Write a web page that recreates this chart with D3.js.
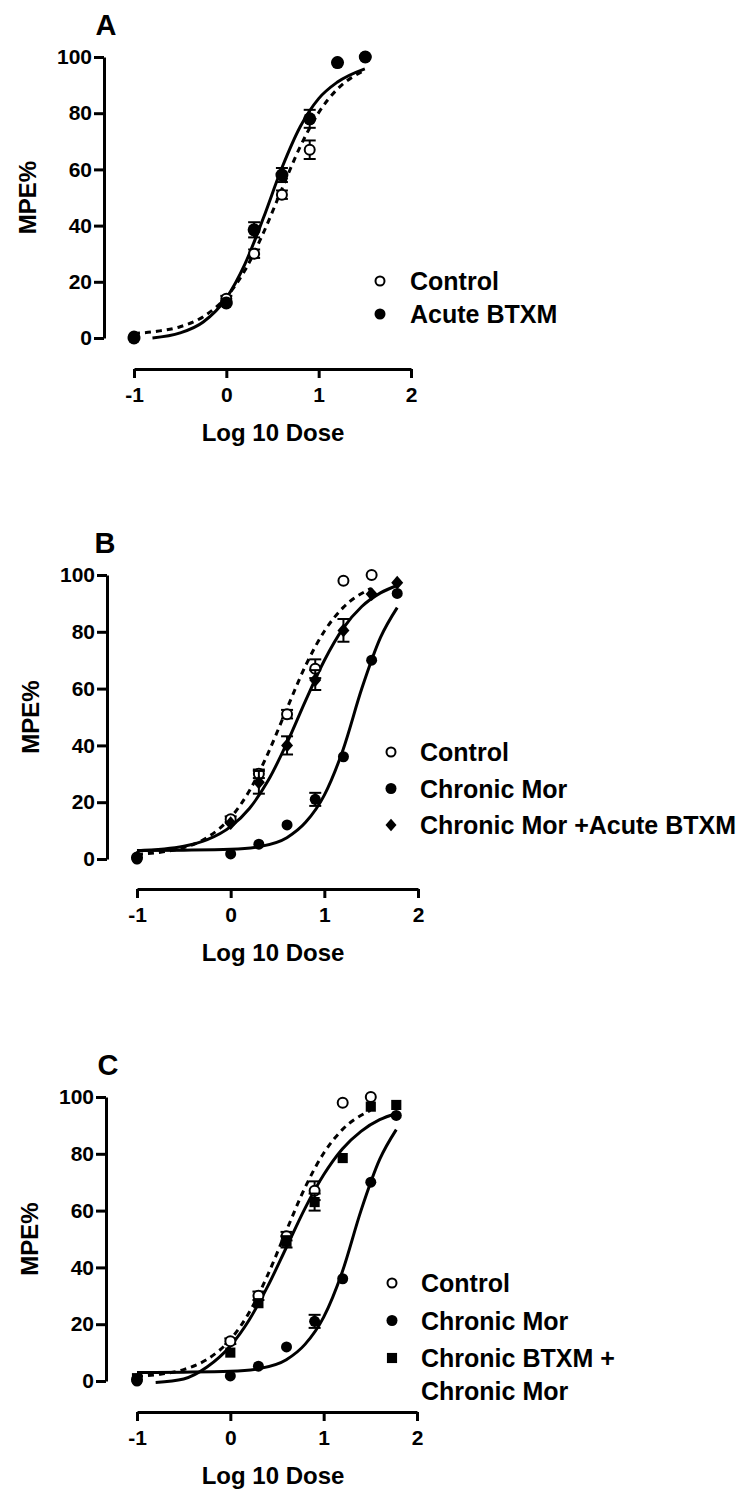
<!DOCTYPE html>
<html lang="en">
<head>
    <meta charset="UTF-8">
    <title>MPE% dose-response</title>
    <script src="https://cdn.jsdelivr.net/npm/d3@7"></script>
    <style>
        body { margin: 0; background: #fff; }
        text { font-family: "Liberation Sans", Arial, sans-serif; font-weight: bold; fill: #000; }
    </style>
</head>
<body>
<div id="chart"></div>
<script>
    // log10 doses shared by all three panels
    var logDose = [-1, 0, 0.301, 0.602, 0.903, 1.204, 1.505, 1.778];
    var xTicks = [-1, 0, 1, 2];
    var yTicks = [0, 20, 40, 60, 80, 100];

    // mean MPE% and SEM per group
    var controlMPE = [0.5, 14, 30, 51, 67, 98, 100];
    var controlSEM = [0, 1, 1.5, 1.5, 3.3, 0, 0];
    var acuteBtxmMPE = [0, 12.5, 38.5, 58, 78, 98, 100];
    var acuteBtxmSEM = [0, 0, 2.7, 2.5, 3.2, 0, 0];
    var chronicMorMPE = [0, 1.8, 5.2, 12, 21, 36, 70, 93.5];
    var chronicMorSEM = [0, 0, 0, 0, 2.3, 0, 0, 0];
    var morAcuteBtxmMPE = [0.5, 12.6, 27, 40, 63, 80.5, 93.3, 97.3];
    var morAcuteBtxmSEM = [0, 0, 4, 3.2, 3.5, 4, 0, 0];
    var btxmMorMPE = [1, 10, 27.4, 49, 63, 78.5, 96.6, 97.2];
    var btxmMorSEM = [0, 0, 0, 2, 3, 0, 0, 0];

    // fitted curves, sampled off the figure
    var fitControlX = [-1, -0.75, -0.5, -0.25, 0, 0.2, 0.4, 0.6, 0.8, 1.0, 1.2, 1.5];
    var fitControlY = [1.6, 2.4, 4.0, 7.6, 14.6, 24.0, 37.3, 52.9, 68.1, 80.2, 88.5, 95.3];
    var fitAcuteX = [-0.8, -0.5, -0.25, 0, 0.2, 0.4, 0.6, 0.8, 1.0, 1.2, 1.5];
    var fitAcuteY = [0, 1.8, 5.7, 14.2, 26.2, 42.6, 60.4, 75.2, 85.2, 91.0, 95.8];
    var fitMorX = [-1, -0.5, 0, 0.3, 0.6, 0.8, 1.0, 1.2, 1.4, 1.6, 1.778];
    var fitMorY = [3.0, 3.1, 3.4, 4.3, 7.5, 12.9, 22.5, 38.5, 60, 78, 88.5];
    var fitMorAcuteX = [-1, -0.5, -0.25, 0, 0.2, 0.4, 0.6, 0.8, 1.0, 1.2, 1.4, 1.6, 1.778];
    var fitMorAcuteY = [2.9, 4.5, 6.8, 11.4, 17.8, 27.6, 40.8, 55.8, 69.9, 81.2, 88.9, 93.7, 96.3];
    var fitBtxmMorX = [-0.8, -0.5, -0.25, 0, 0.2, 0.4, 0.6, 0.8, 1.0, 1.2, 1.4, 1.6, 1.778];
    var fitBtxmMorY = [-0.5, 0.7, 4.9, 12.3, 21.4, 33.3, 47, 60.8, 72.6, 81.7, 87.9, 92, 94.2];

    var svg = d3.select("#chart").append("svg")
        .attr("width", 750)
        .attr("height", 1501);

    function drawMarker(sel, kind, r) {
        if (kind === "open" || kind === "filled") {
            sel.append("circle")
                .attr("r", kind === "open" ? r - 1 : r)
                .attr("fill", kind === "open" ? "#fff" : "#000")
                .attr("stroke", "#000")
                .attr("stroke-width", kind === "open" ? 2 : 0);
        } else if (kind === "diamond") {
            var w = r, h = r * 1.15;
            sel.append("path")
                .attr("d", "M0," + (-h) + "L" + w + ",0L0," + h + "L" + (-w) + ",0Z")
                .attr("fill", "#000");
        } else {
            sel.append("path")
                .attr("d", d3.symbol().type(d3.symbolSquare).size(r * r * 3.4)())
                .attr("fill", "#000");
        }
    }

    function drawPanel(p) {
        var x = d3.scaleLinear().domain([-1, 2]).range([p.xLeft, p.xRight]);
        var y = d3.scaleLinear().domain([0, 100]).range([p.yBot, p.yTop]);
        var g = svg.append("g");

        // axes
        var yAx = g.append("g")
            .attr("transform", "translate(" + p.yAxisX + ",0)")
            .call(d3.axisLeft(y).tickValues(yTicks).tickSize(10).tickSizeOuter(0)
                .tickPadding(2).tickFormat(function(d) { return String(d); }));
        var xAx = g.append("g")
            .attr("transform", "translate(0," + p.xAxisY + ")")
            .call(d3.axisBottom(x).tickValues(xTicks).tickSize(9).tickSizeOuter(0)
                .tickPadding(9).tickFormat(function(d) { return String(d); }));
        [yAx, xAx].forEach(function(a) {
            a.selectAll("path, line").attr("stroke", "#000").attr("stroke-width", 3);
            a.selectAll("text").style("font-size", "21px").attr("fill", "#000");
        });

        g.append("text")
            .attr("transform", "translate(" + (p.yAxisX - 68) + "," + ((p.yTop + p.yBot) / 2) + ") rotate(-90)")
            .attr("text-anchor", "middle")
            .style("font-size", "24px")
            .text("MPE%");
        g.append("text")
            .attr("x", 273)
            .attr("y", p.xAxisY + 72)
            .attr("text-anchor", "middle")
            .style("font-size", "24px")
            .text("Log 10 Dose");
        g.append("text")
            .attr("x", p.letterX)
            .attr("y", p.yTop - 22)
            .attr("text-anchor", "middle")
            .style("font-size", "29px")
            .text(p.letter);

        // fitted curves
        var line = d3.line()
            .x(function(d) { return x(d[0]); })
            .y(function(d) { return y(d[1]); })
            .curve(d3.curveMonotoneX);
        p.fits.forEach(function(f) {
            g.append("path")
                .attr("d", line(d3.zip(f.xs, f.ys)))
                .attr("fill", "none")
                .attr("stroke", "#000")
                .attr("stroke-width", 3)
                .attr("stroke-dasharray", f.dashed ? "6,5" : null);
        });

        // error bars and points
        p.series.forEach(function(s) {
            var pts = s.values.map(function(v, i) { return { x: logDose[i], v: v, e: s.sem[i] }; });
            var eb = g.append("g").selectAll("g").data(pts.filter(function(d) { return d.e > 0; }))
                .enter().append("g")
                .attr("stroke", "#000").attr("stroke-width", 2);
            eb.append("line")
                .attr("x1", function(d) { return x(d.x); }).attr("x2", function(d) { return x(d.x); })
                .attr("y1", function(d) { return y(d.v - d.e); }).attr("y2", function(d) { return y(d.v + d.e); });
            eb.append("line")
                .attr("x1", function(d) { return x(d.x) - 6; }).attr("x2", function(d) { return x(d.x) + 6; })
                .attr("y1", function(d) { return y(d.v + d.e); }).attr("y2", function(d) { return y(d.v + d.e); });
            eb.append("line")
                .attr("x1", function(d) { return x(d.x) - 6; }).attr("x2", function(d) { return x(d.x) + 6; })
                .attr("y1", function(d) { return y(d.v - d.e); }).attr("y2", function(d) { return y(d.v - d.e); });

            g.append("g").selectAll("g").data(pts)
                .enter().append("g")
                .attr("transform", function(d) { return "translate(" + x(d.x) + "," + y(d.v) + ")"; })
                .each(function() { drawMarker(d3.select(this), s.kind, s.r); });
        });

        // legend
        var row = 0;
        p.legend.forEach(function(item) {
            var ly = p.legendY + row * p.legendGap;
            var m = g.append("g").attr("transform", "translate(" + p.legendMarkerX + "," + ly + ")");
            drawMarker(m, item.kind, 5.5);
            item.label.forEach(function(t, k) {
                g.append("text")
                    .attr("x", p.legendTextX)
                    .attr("y", ly + k * 33)
                    .attr("dy", "0.36em")
                    .style("font-size", "25px")
                    .text(t);
            });
            row += 1;
        });
    }

    drawPanel({
        letter: "A", letterX: 106,
        yAxisX: 104, yTop: 57, yBot: 338, xAxisY: 369, xLeft: 134, xRight: 411,
        fits: [
            { xs: fitControlX, ys: fitControlY, dashed: true },
            { xs: fitAcuteX, ys: fitAcuteY, dashed: false }
        ],
        series: [
            { values: controlMPE, sem: controlSEM, kind: "open", r: 6 },
            { values: acuteBtxmMPE, sem: acuteBtxmSEM, kind: "filled", r: 6.5 }
        ],
        legendMarkerX: 380, legendTextX: 410, legendY: 281, legendGap: 33,
        legend: [
            { kind: "open", label: ["Control"] },
            { kind: "filled", label: ["Acute BTXM"] }
        ]
    });

    drawPanel({
        letter: "B", letterX: 105,
        yAxisX: 107, yTop: 575, yBot: 859, xAxisY: 889, xLeft: 137, xRight: 418,
        fits: [
            { xs: fitControlX, ys: fitControlY, dashed: true },
            { xs: fitMorAcuteX, ys: fitMorAcuteY, dashed: false },
            { xs: fitMorX, ys: fitMorY, dashed: false }
        ],
        series: [
            { values: controlMPE, sem: controlSEM, kind: "open", r: 6 },
            { values: chronicMorMPE, sem: chronicMorSEM, kind: "filled", r: 5.5 },
            { values: morAcuteBtxmMPE, sem: morAcuteBtxmSEM, kind: "diamond", r: 6 }
        ],
        legendMarkerX: 391, legendTextX: 420, legendY: 752, legendGap: 36.5,
        legend: [
            { kind: "open", label: ["Control"] },
            { kind: "filled", label: ["Chronic Mor"] },
            { kind: "diamond", label: ["Chronic Mor +Acute BTXM"] }
        ]
    });

    drawPanel({
        letter: "C", letterX: 108,
        yAxisX: 106, yTop: 1097, yBot: 1381, xAxisY: 1412, xLeft: 137, xRight: 417,
        fits: [
            { xs: fitControlX, ys: fitControlY, dashed: true },
            { xs: fitBtxmMorX, ys: fitBtxmMorY, dashed: false },
            { xs: fitMorX, ys: fitMorY, dashed: false }
        ],
        series: [
            { values: controlMPE, sem: controlSEM, kind: "open", r: 6 },
            { values: chronicMorMPE, sem: chronicMorSEM, kind: "filled", r: 5.5 },
            { values: btxmMorMPE, sem: btxmMorSEM, kind: "square", r: 5.5 }
        ],
        legendMarkerX: 392, legendTextX: 421, legendY: 1283, legendGap: 37.5,
        legend: [
            { kind: "open", label: ["Control"] },
            { kind: "filled", label: ["Chronic Mor"] },
            { kind: "square", label: ["Chronic BTXM +", "Chronic Mor"] }
        ]
    });
</script>
</body>
</html>
